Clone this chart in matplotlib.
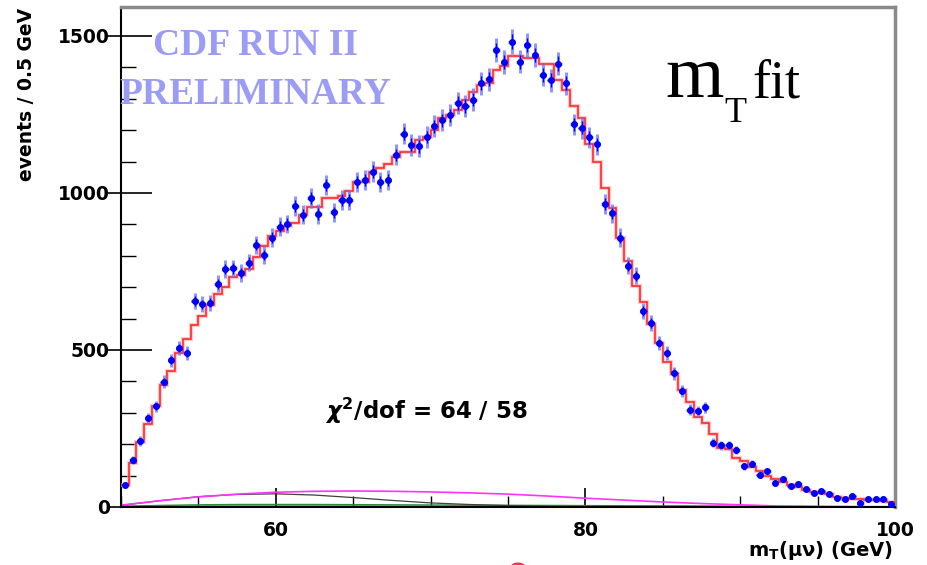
import numpy as np
import matplotlib
matplotlib.use("Agg")
import matplotlib.pyplot as plt
from matplotlib.ticker import MultipleLocator, FixedLocator
from matplotlib.patches import Circle

# ---------------- data ----------------
bin_low = 50.0
bin_width = 0.5

counts = [70, 149, 210, 283, 320, 399, 467, 506, 490,
          655, 645, 651, 711, 758, 760, 745, 778, 835,
          802, 858, 892, 901, 959, 930, 984, 933, 1025,
          938, 978, 978, 1034, 1041, 1068, 1036, 1041, 1121,
          1189, 1153, 1149, 1178, 1212, 1231, 1247, 1287, 1277,
          1297, 1349, 1362, 1455, 1416, 1482, 1418, 1471, 1439,
          1377, 1359, 1412, 1349, 1218, 1207, 1177, 1155, 965,
          935, 858, 768, 736, 624, 586, 522, 490, 426,
          370, 310, 305, 317, 204, 196, 196, 181, 130,
          138, 101, 115, 77, 90, 66, 74, 56, 45,
          51, 40, 30, 24, 34, 13, 27, 24, 27, 11]

fit = [69, 140, 206, 264, 322, 388, 433, 491, 536, 579, 607, 644,
       678, 702, 731, 739, 757, 797, 831, 863, 879, 895, 904, 930,
       954, 955, 983, 985, 990, 1005, 1035, 1036, 1068, 1078, 1093, 1115,
       1131, 1131, 1170, 1178, 1200, 1237, 1247, 1265, 1295, 1322, 1343, 1350,
       1391, 1403, 1435, 1435, 1430,
       1431, 1410, 1410, 1361, 1329, 1276, 1237, 1155, 1097, 1016, 953, 858,
       783, 704, 653, 582, 522, 462, 425,
       373, 334, 287, 266, 234, 189, 184, 157, 147, 127, 115, 98, 90, 80,
       69, 64, 55, 48, 45, 40, 32, 30, 27, 25, 23, 21, 19, 15]

bg_mass = [50, 52.5, 55, 57.5, 60, 62.5, 65, 67.5, 70, 72.5, 75,
           77.5, 80, 82.5, 85, 87.5, 90, 92.5, 95, 97.5, 100]
bg_magenta = [6, 20, 32, 41, 47, 50, 51, 50, 48, 45, 41,
              35, 28, 22, 16, 11, 7, 3, 1.5, 0.5, 0]
bg_black = [5, 20, 33, 40, 42, 38, 30, 21, 13, 8, 4.5,
            2, 1, 0.5, 0.3, 0.2, 0.1, 0, 0, 0, 0]
bg_green = [2, 5, 7, 8, 8, 8, 7.5, 7, 6.5, 6, 5.5,
            5, 4.5, 4, 3.5, 3, 2.5, 2, 1.5, 1.2, 1]
bg_blue = [1, 1.5, 2, 2, 2, 2, 2, 1.8, 1.6, 1.5, 1.4,
           1.3, 1.2, 1.1, 1.0, 0.9, 0.8, 0.7, 0.6, 0.5, 0.5]

y_major = [0, 500, 1000, 1500]
x_major = [60, 80, 100]

# ---------------- figure ----------------
plt.rcParams['font.family'] = ['DejaVu Sans']
plt.rcParams['font.weight'] = 'bold'

W, H = 927, 565
fig = plt.figure(figsize=(W / 100, H / 100), dpi=100)
ax = fig.add_axes([121 / W, 1 - 507 / H, (895 - 121) / W, (507 - 7) / H])

edges = bin_low + bin_width * np.arange(len(counts) + 1)
centers = 0.5 * (edges[:-1] + edges[1:])

ax.plot(bg_mass, bg_blue, color='#3a3a9a', lw=1.3, zorder=2)
ax.plot(bg_mass, bg_green, color='#2e8b3a', lw=1.0, zorder=2)
ax.plot(bg_mass, bg_black, color='#404040', lw=0.9, zorder=2)
ax.plot(bg_mass, bg_magenta, color='#ff33ff', lw=1.2, zorder=2)

ax.stairs(fit, edges, color='#ffaaaa', lw=3.0, alpha=0.6, baseline=None, zorder=3)
ax.stairs(fit, edges, color='#ff2a2a', lw=1.2, baseline=None, zorder=3)

cnt = np.asarray(counts, dtype=float)
ax.errorbar(centers, cnt, yerr=np.sqrt(cnt), xerr=0.22, fmt='none',
            ecolor='#6a74ff', elinewidth=2.2, alpha=0.75, capsize=0, zorder=4)
ax.errorbar(centers, cnt, yerr=np.sqrt(cnt) * 0.6, xerr=0.2, fmt='o', ms=4,
            color='#0000ff', ecolor='#0000ff', elinewidth=1.0, capsize=0, zorder=5)

ax.set_xlim(50, 100)
ax.set_ylim(0, 1592)

ax.xaxis.set_major_locator(FixedLocator(x_major))
ax.xaxis.set_minor_locator(MultipleLocator(5))
ax.yaxis.set_major_locator(FixedLocator(y_major))
ax.yaxis.set_minor_locator(MultipleLocator(100))

ax.tick_params(axis='y', which='major', direction='in', length=22, width=1.2,
               pad=8, labelsize=13.5)
ax.tick_params(axis='y', which='minor', direction='in', length=11, width=1.0)
ax.tick_params(axis='x', which='major', direction='in', length=14, width=1.2,
               pad=10, labelsize=13.5)
ax.tick_params(axis='x', which='minor', direction='in', length=8, width=1.0)

sec = ax.secondary_yaxis('left')
sec.set_yticks(y_major)
sec.tick_params(direction='out', length=10, width=1.2, labelleft=False)
sec.spines['left'].set_visible(False)

for s in ('top', 'right'):
    ax.spines[s].set_color('#8a8a8a')
    ax.spines[s].set_linewidth(2.5)
for s in ('left', 'bottom'):
    ax.spines[s].set_color('black')
    ax.spines[s].set_linewidth(1.5)

# ---------------- texts ----------------
fig.text(27 / W, 1 - 8 / H, 'events / 0.5 GeV', rotation=90, ha='center',
         va='top', fontsize=13.5, fontweight='bold')
fig.text(893 / W, 1 - 556 / H, r'm$_{\mathbf{T}}$(μν) (GeV)', ha='right',
         va='baseline', fontsize=14, fontweight='bold')

fig.text(325 / W, 1 - 419 / H, r'$\chi^{2}$/dof = 64 / 58', ha='left',
         va='baseline', fontsize=16.5, fontweight='bold')

cdf_col = '#9a9cf5'
fig.text(256 / W, 1 - 55 / H, 'CDF RUN II', ha='center', va='baseline',
         fontsize=27, fontweight='bold', family='Liberation Serif', color=cdf_col)
fig.text(255 / W, 1 - 104 / H, 'PRELIMINARY', ha='center', va='baseline',
         fontsize=27, fontweight='bold', family='Liberation Serif', color=cdf_col)

fig.text(665 / W, 1 - 97 / H, 'm', ha='left', va='baseline', fontsize=54,
         fontweight='normal', family='Liberation Serif', color='black')
fig.text(724 / W, 1 - 122 / H, 'T', ha='left', va='baseline', fontsize=26,
         fontweight='normal', family='Liberation Serif', color='black')
fig.text(752 / W, 1 - 97 / H, 'fit', ha='left', va='baseline', fontsize=39,
         fontweight='normal', family='Liberation Serif', color='black')

# small red arc clipped at the bottom edge
fig.patches.append(Circle((518 / W, 1 - 568 / H), 6.5 / W, transform=fig.transFigure,
                          fill=False, edgecolor='#e83858', lw=2.2))

fig.savefig('out.png', dpi=100)
